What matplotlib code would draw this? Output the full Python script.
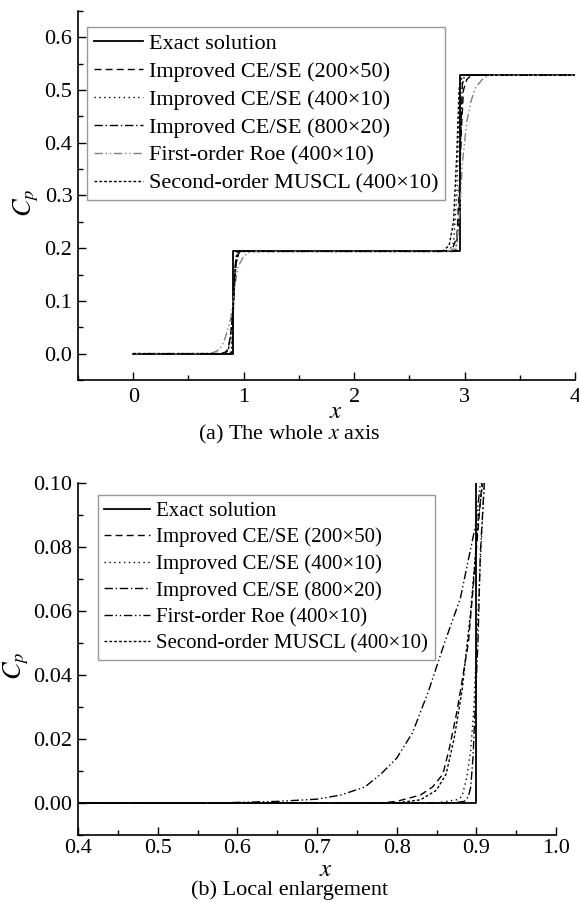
# Cp distributions: exact solution vs. numerical schemes
import matplotlib.pyplot as plt
from matplotlib.ticker import MultipleLocator

plt.rcParams['font.family'] = ['Liberation Serif', 'DejaVu Serif']
plt.rcParams['mathtext.fontset'] = 'stix'

# exact solution
x_exact = [0.0, 0.9, 0.9, 2.96, 2.96, 4.0]
cp_exact = [0.0, 0.0, 0.194, 0.194, 0.528, 0.528]

# Improved CE/SE (200x50)
x_ce200 = [0.0, 0.57, 0.78, 0.80, 0.83, 0.845, 0.858, 0.866, 0.876, 0.89, 0.90, 0.907, 0.92, 0.94, 0.97,
           2.88, 2.93, 2.95, 2.97, 2.99, 3.02, 3.06, 4.0]
cp_ce200 = [0.0, 0.0, 0.0, 0.0005, 0.0025, 0.005, 0.009, 0.017, 0.029, 0.05, 0.079, 0.10, 0.15, 0.185, 0.194,
            0.194, 0.22, 0.30, 0.42, 0.50, 0.52, 0.528, 0.528]

# Improved CE/SE (400x10)
x_ce400 = [0.0, 0.57, 0.85, 0.875, 0.882, 0.888, 0.893, 0.897, 0.90, 0.905, 0.91, 0.92, 0.94, 0.96,
           2.86, 2.90, 2.93, 2.95, 2.97, 2.99, 4.0]
cp_ce400 = [0.0, 0.0, 0.0, 0.001, 0.002, 0.008, 0.0165, 0.03, 0.0475, 0.075, 0.10, 0.16, 0.19, 0.194,
            0.194, 0.21, 0.30, 0.45, 0.52, 0.528, 0.528]

# Improved CE/SE (800x20)
x_ce800 = [0.0, 0.57, 0.87, 0.885, 0.89, 0.893, 0.896, 0.898, 0.902, 0.905, 0.91, 0.92, 0.935, 0.95,
           2.92, 2.95, 2.97, 2.98, 3.00, 4.0]
cp_ce800 = [0.0, 0.0, 0.0, 0.0005, 0.002, 0.005, 0.015, 0.027, 0.05, 0.078, 0.10, 0.16, 0.19, 0.194,
            0.194, 0.25, 0.45, 0.51, 0.528, 0.528]

# First-order Roe (400x10)
x_roe = [0.0, 0.57, 0.65, 0.70, 0.73, 0.76, 0.78, 0.80, 0.82, 0.84, 0.86, 0.88, 0.90, 0.905, 0.92, 0.95,
         1.0, 1.05, 1.1, 2.85, 2.92, 2.95, 2.98, 3.02, 3.06, 3.10, 3.16, 3.22, 4.0]
cp_roe = [0.0, 0.0, 0.0005, 0.0012, 0.0025, 0.005, 0.009, 0.014, 0.022, 0.035, 0.05, 0.064, 0.088, 0.10, 0.13,
          0.165, 0.185, 0.192, 0.194, 0.194, 0.20, 0.25, 0.36, 0.44, 0.48, 0.505, 0.52, 0.528, 0.528]

# Second-order MUSCL (400x10)
x_muscl = [0.0, 0.57, 0.80, 0.83, 0.85, 0.862, 0.872, 0.882, 0.893, 0.903, 0.908, 0.93, 0.96,
           2.80, 2.86, 2.90, 2.93, 2.95, 2.97, 4.0]
cp_muscl = [0.0, 0.0, 0.0, 0.001, 0.004, 0.009, 0.02, 0.035, 0.06, 0.09, 0.10, 0.17, 0.194,
            0.194, 0.205, 0.25, 0.38, 0.50, 0.528, 0.528]

labels = ["Exact solution", "Improved CE/SE (200\u00d750)", "Improved CE/SE (400\u00d710)",
          "Improved CE/SE (800\u00d720)", "First-order Roe (400\u00d710)",
          "Second-order MUSCL (400\u00d710)"]


def draw(ax, roe_color, legsize, anchor, xlab_y, ylab_x, xpad):
    ax.plot(x_exact, cp_exact, color="black", lw=1.3, label=labels[0])
    ax.plot(x_ce200, cp_ce200, color="black", lw=1.0, dashes=(5, 3), label=labels[1])
    ax.plot(x_ce400, cp_ce400, color="black", lw=1.0, dashes=(1, 2.5), label=labels[2])
    ax.plot(x_ce800, cp_ce800, color="black", lw=1.0, dashes=(6, 2, 1, 2), label=labels[3])
    ax.plot(x_roe, cp_roe, color=roe_color, lw=1.0, dashes=(6, 2, 1, 2, 1, 2), label=labels[4])
    ax.plot(x_muscl, cp_muscl, color="black", lw=1.0, dashes=(2, 1.5), label=labels[5])
    for s in ["top", "right"]:
        ax.spines[s].set_visible(False)
    for s in ["left", "bottom"]:
        ax.spines[s].set_linewidth(1.2)
    ax.tick_params(direction="in", which="both", labelsize=16, width=1)
    ax.tick_params(axis="x", which="major", length=6, pad=xpad)
    ax.tick_params(axis="y", which="major", length=6, pad=4)
    ax.tick_params(which="minor", length=3.5)
    ax.set_xlabel("$x$", fontsize=18, va="center")
    ax.xaxis.set_label_coords(0.519, xlab_y)
    ax.set_ylabel("$C_p$", fontsize=19)
    ax.yaxis.set_label_coords(ylab_x, 0.48)
    leg = ax.legend(loc="upper left", bbox_to_anchor=anchor, fontsize=legsize, frameon=True,
                    fancybox=False, handlelength=2.2, labelspacing=0.33, borderpad=0.3,
                    handletextpad=0.3, borderaxespad=0.0)
    leg.get_frame().set_edgecolor("gray")
    leg.get_frame().set_linewidth(1.0)


fig = plt.figure(figsize=(5.79, 9.02), dpi=100)

ax1 = fig.add_axes([78 / 579, 1 - 380 / 902, 497 / 579, 369 / 902])
draw(ax1, "gray", 16, (0.018, 0.957), -32 / 369, -0.075, 6)
ax1.set_xlim(-0.5, 4)
ax1.set_ylim(-0.05, 0.65)
ax1.set_xticks([0, 1, 2, 3, 4])
ax1.xaxis.set_minor_locator(MultipleLocator(0.5))
ax1.set_yticks([0.0, 0.1, 0.2, 0.3, 0.4, 0.5, 0.6])
ax1.set_yticklabels(["0.0", "0.1", "0.2", "0.3", "0.4", "0.5", "0.6"])
ax1.yaxis.set_minor_locator(MultipleLocator(0.05))
fig.text(0.5, 1 - 434 / 902, "(a) The whole $x$ axis", ha="center", va="center", fontsize=16)

ax2 = fig.add_axes([78 / 579, 1 - 835 / 902, 478 / 579, 352 / 902])
draw(ax2, "black", 15, (0.042, 0.966), -35 / 352, -0.098, 3)
ax2.set_xlim(0.4, 1.0)
ax2.set_ylim(-0.01, 0.10)
ax2.set_xticks([0.4, 0.5, 0.6, 0.7, 0.8, 0.9, 1.0])
ax2.xaxis.set_minor_locator(MultipleLocator(0.05))
ax2.set_yticks([0.0, 0.02, 0.04, 0.06, 0.08, 0.10])
ax2.set_yticklabels(["0.00", "0.02", "0.04", "0.06", "0.08", "0.10"])
ax2.yaxis.set_minor_locator(MultipleLocator(0.01))
fig.text(0.5, 1 - 890 / 902, "(b) Local enlargement", ha="center", va="center", fontsize=16)

fig.savefig("out.png", dpi=100)
